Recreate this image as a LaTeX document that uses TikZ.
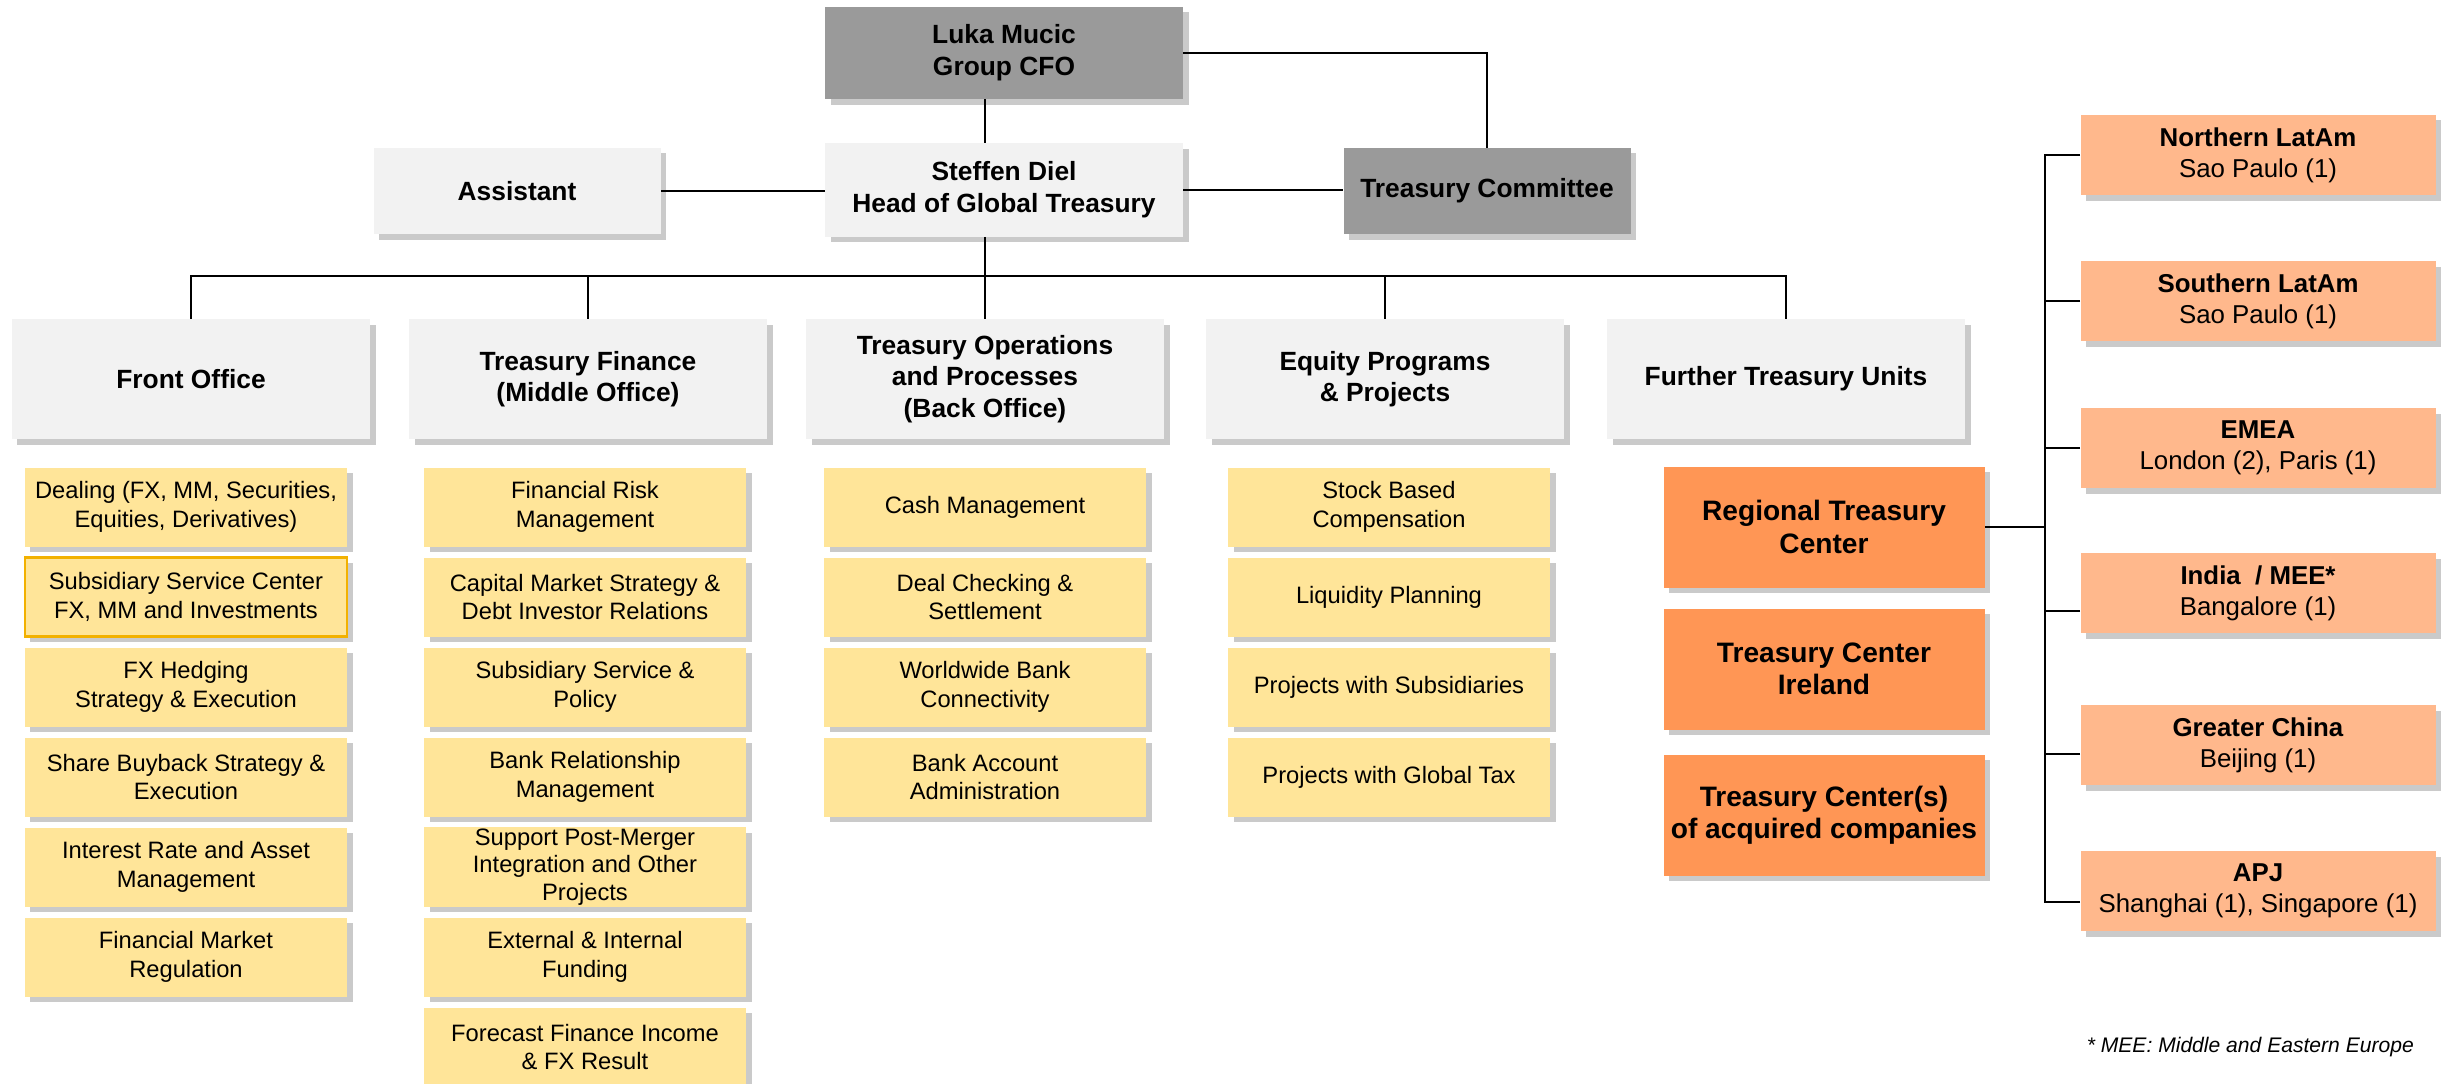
\documentclass[tikz,border=0pt]{standalone}
\usepackage{fontspec}
\setmainfont{Liberation Sans}
\usetikzlibrary{positioning,shadows,calc}
\definecolor{bossgray}{HTML}{9A9A9A}
\definecolor{unitgray}{HTML}{F2F2F2}
\definecolor{taskyellow}{HTML}{FFE599}
\definecolor{taskrim}{HTML}{F2B100}
\definecolor{hubor}{HTML}{FF9655}
\definecolor{regionor}{HTML}{FFB88C}

\begin{document}
\begin{tikzpicture}[x=0.2mm,y=-0.2mm,
  box/.style={rectangle,align=center,inner sep=1pt,
    drop shadow={shadow xshift=1.1mm,shadow yshift=-1.1mm,fill=black!60,opacity=.35}},
  boss/.style={box,fill=bossgray,minimum width=71.6mm,minimum height=18.4mm,font=\fontsize{15}{18}\selectfont\bfseries},
  head/.style={box,fill=unitgray,minimum width=71.6mm,minimum height=18.6mm,font=\fontsize{15}{18}\selectfont\bfseries},
  side/.style={box,minimum width=57.4mm,minimum height=17.2mm,font=\fontsize{15}{18}\selectfont\bfseries},
  unit/.style={box,fill=unitgray,minimum width=71.6mm,minimum height=24mm,font=\fontsize{15}{18}\selectfont\bfseries},
  task/.style={box,fill=taskyellow,minimum width=64.4mm,minimum height=15.8mm,font=\fontsize{13.5}{16.3}\selectfont},
  hub/.style={box,fill=hubor,minimum width=64.2mm,minimum height=24.2mm,font=\fontsize{16}{18.5}\selectfont\bfseries},
  region/.style={box,fill=regionor,minimum width=71mm,minimum height=16mm,font=\fontsize{14.7}{17.5}\selectfont},
  link/.style={draw=black,line width=1.1pt}]
\useasboundingbox (0,0) rectangle (2444,1084);

% top level
\node[boss] (CFO) at (1004,53) {Luka Mucic\\Group CFO};
\node[head] (HGT) at (1004,190) {Steffen Diel\\Head of Global Treasury};
\node[side,fill=unitgray] (AS) at (517,191) {Assistant};
\node[side,fill=bossgray] (TC) at (1487,191) {Treasury Committee};

% units
\node[unit] (FO) at (191,379) {Front Office};
\node[unit] (TF) at (588,379) {Treasury Finance\\(Middle Office)};
\node[unit] (TO) at (985,379) {Treasury Operations\\and Processes\\(Back Office)};
\node[unit] (EP) at (1385,379) {Equity Programs\\\& Projects};
\node[unit] (FU) at (1786,379) {Further Treasury Units};

% front office
\node[task] (FO1) at (186,507) {Dealing (FX, MM, Securities,\\Equities, Derivatives)};
\node[task,draw=taskrim,line width=1.2pt] (FO2) at (186,597) {Subsidiary Service Center\\FX, MM and Investments};
\node[task] (FO3) at (186,687) {FX Hedging\\Strategy \& Execution};
\node[task] (FO4) at (186,777) {Share Buyback Strategy \&\\Execution};
\node[task] (FO5) at (186,867) {Interest Rate and Asset\\Management};
\node[task] (FO6) at (186,957) {Financial Market\\Regulation};

% treasury finance
\node[task] (TF1) at (585,507) {Financial Risk\\Management};
\node[task] (TF2) at (585,597) {Capital Market Strategy \&\\Debt Investor Relations};
\node[task] (TF3) at (585,687) {Subsidiary Service \&\\Policy};
\node[task] (TF4) at (585,777) {Bank Relationship\\Management};
\node[task,font=\fontsize{13.5}{15.6}\selectfont] (TF5) at (585,867) {Support Post-Merger\\Integration and Other\\Projects};
\node[task] (TF6) at (585,957) {External \& Internal\\Funding};
\node[task] (TF7) at (585,1047) {Forecast Finance Income\\\& FX Result};

% treasury operations
\node[task] (TO1) at (985,507) {Cash Management};
\node[task] (TO2) at (985,597) {Deal Checking \&\\Settlement};
\node[task] (TO3) at (985,687) {Worldwide Bank\\Connectivity};
\node[task] (TO4) at (985,777) {Bank Account\\Administration};

% equity programs
\node[task] (EP1) at (1389,507) {Stock Based\\Compensation};
\node[task] (EP2) at (1389,597) {Liquidity Planning};
\node[task] (EP3) at (1389,687) {Projects with Subsidiaries};
\node[task] (EP4) at (1389,777) {Projects with Global Tax};

% further units
\node[hub] (RTC) at (1824,527) {Regional Treasury\\Center};
\node[hub] (TCI) at (1824,669) {Treasury Center\\Ireland};
\node[hub] (TCA) at (1824,815) {Treasury Center(s)\\of acquired companies};

% regions
\node[region] (R1) at (2258,155) {\textbf{Northern LatAm}\\Sao Paulo (1)};
\node[region] (R2) at (2258,301) {\textbf{Southern LatAm}\\Sao Paulo (1)};
\node[region] (R3) at (2258,448) {\textbf{EMEA}\\London (2), Paris (1)};
\node[region] (R4) at (2258,593) {\textbf{India\ \ / MEE*}\\Bangalore (1)};
\node[region] (R5) at (2258,745) {\textbf{Greater China}\\Beijing (1)};
\node[region] (R6) at (2258,891) {\textbf{APJ}\\Shanghai (1), Singapore (1)};

\node[anchor=east,font=\fontsize{12}{14}\selectfont\itshape] (note) at (2420,1047) {* MEE: Middle and Eastern Europe};

% connectors
\coordinate (bus) at (985,276);
\coordinate (spine) at (2045,527);
\draw[link] (CFO.east) -| (TC.north);
\draw[link] (CFO.south -| TO.north) -- (HGT.north -| TO.north);
\draw[link] (AS.east) -- (AS.east -| HGT.west);
\draw[link] (HGT.east) -- (HGT.east -| TC.west);
\draw[link] (HGT.south -| TO.north) -- (TO.north);
\draw[link] (FO.north) |- (bus) -| (FU.north);
\draw[link] (TF.north) -- (TF.north |- bus);
\draw[link] (EP.north) -- (EP.north |- bus);
\draw[link] (RTC.east) -- (spine);
\draw[link] (R1.west) -| (spine);
\draw[link] ([yshift=-2.2mm]R6.west) -| (spine);
\draw[link] (R2.west) -- (R2.west -| spine);
\draw[link] (R3.west) -- (R3.west -| spine);
\draw[link] ([yshift=-3.6mm]R4.west) -- ([yshift=-3.6mm]R4.west -| spine);
\draw[link] ([yshift=-1.8mm]R5.west) -- ([yshift=-1.8mm]R5.west -| spine);
\end{tikzpicture}
\end{document}
